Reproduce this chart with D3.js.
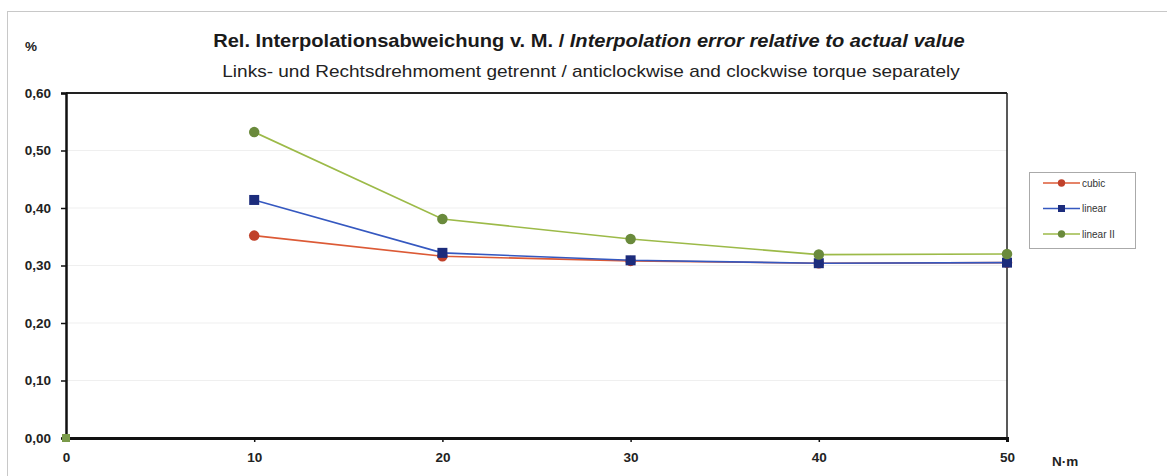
<!doctype html>
<html lang="de">
<head>
	<meta charset="UTF-8">
	<title>Rel. Interpolationsabweichung</title>
	<style>
		body { margin: 0; background: #fff; }
		svg { display: block; font-family: "Liberation Sans", Arial, sans-serif; }
		.tick-label { font-size: 13.5px; font-weight: bold; fill: #222; }
		.legend-text { font-size: 10px; fill: #333; }
	</style>
</head>
<body>
	<script src="https://cdn.jsdelivr.net/npm/d3@7"></script>
	<script>
		var w = 1167,
			h = 476;

		// data
		var torque = [10, 20, 30, 40, 50];
		var cubic = [0.352, 0.316, 0.308, 0.304, 0.305];
		var linear = [0.414, 0.322, 0.309, 0.304, 0.305];
		var linear2 = [0.532, 0.381, 0.346, 0.319, 0.320];
		var originPoint = [0, 0];
		var xTicks = [0, 10, 20, 30, 40, 50];
		var yTicks = [0, 0.1, 0.2, 0.3, 0.4, 0.5, 0.6];

		var series = [
			{ name: 'cubic', values: cubic, line: '#dc5a36', mark: '#c0412a', shape: 'circle' },
			{ name: 'linear', values: linear, line: '#3558c0', mark: '#1c2c7c', shape: 'square' },
			{ name: 'linear II', values: linear2, line: '#9cba48', mark: '#6a8a3c', shape: 'circle' }
		];

		var plot = { left: 66, right: 1007, top: 93, bottom: 438 };

		var svg = d3.select('body')
			.append('svg')
			.attr('width', w)
			.attr('height', h);

		// outer frame
		svg.append('rect')
			.attr('x', 7.5).attr('y', 11.5)
			.attr('width', w).attr('height', h)
			.attr('fill', 'none')
			.attr('stroke', '#c8c8c8');

		var xScale = d3.scaleLinear()
			.domain([0, 50])
			.range([plot.left, plot.right]);

		var yScale = d3.scaleLinear()
			.domain([0, 0.6])
			.range([plot.bottom, plot.top]);

		// faint gridlines
		svg.append('g')
			.selectAll('line')
			.data(yTicks.slice(1, -1))
			.enter()
			.append('line')
			.attr('x1', plot.left).attr('x2', plot.right)
			.attr('y1', function(d) { return yScale(d); })
			.attr('y2', function(d) { return yScale(d); })
			.attr('stroke', '#efefef')
			.attr('stroke-width', 1);

		// plot border: top and right
		svg.append('line')
			.attr('x1', plot.left).attr('x2', plot.right)
			.attr('y1', plot.top).attr('y2', plot.top)
			.attr('stroke', '#222').attr('stroke-width', 2);
		svg.append('line')
			.attr('x1', plot.right).attr('x2', plot.right)
			.attr('y1', plot.top).attr('y2', plot.bottom)
			.attr('stroke', '#222').attr('stroke-width', 1.5);

		// y axis
		var yAxis = svg.append('g')
			.attr('transform', 'translate(' + plot.left + ',0)')
			.call(d3.axisLeft(yScale)
				.tickValues(yTicks)
				.tickSize(5)
				.tickPadding(10)
				.tickFormat(function(d) { return d3.format('.2f')(d).replace('.', ','); }));
		yAxis.select('.domain').attr('stroke', '#111').attr('stroke-width', 2.5);
		yAxis.selectAll('.tick line').attr('stroke', '#111').attr('stroke-width', 1.5);
		yAxis.selectAll('.tick text').attr('class', 'tick-label').attr('font-family', null).attr('font-size', null);

		// x axis
		var xAxis = svg.append('g')
			.attr('transform', 'translate(0,' + plot.bottom + ')')
			.call(d3.axisBottom(xScale)
				.tickValues(xTicks)
				.tickSize(4)
				.tickPadding(10)
				.tickFormat(d3.format('d')));
		xAxis.select('.domain').attr('stroke', '#111').attr('stroke-width', 3);
		xAxis.selectAll('.tick line').attr('stroke', '#111').attr('stroke-width', 1.5);
		xAxis.selectAll('.tick text').attr('class', 'tick-label').attr('font-family', null).attr('font-size', null);

		// axis units
		svg.append('text')
			.attr('x', 31).attr('y', 51)
			.attr('text-anchor', 'middle')
			.attr('class', 'tick-label')
			.text('%');
		svg.append('text')
			.attr('x', 1052).attr('y', 466)
			.attr('class', 'tick-label')
			.text('N·m');

		/**
		* stretch a text horizontally so it spans the given width
		*/
		var fitWidth = function(sel, cx, targetWidth) {
			var len = sel.node().getComputedTextLength();
			var sx = targetWidth / len;
			sel.attr('transform', 'translate(' + cx + ',0) scale(' + sx + ',1) translate(' + (-cx) + ',0)');
		};

		// titles
		var title = svg.append('text')
			.attr('x', 589).attr('y', 47)
			.attr('text-anchor', 'middle')
			.style('font-size', '18px')
			.style('font-weight', 'bold')
			.attr('fill', '#1a1a1a');
		title.append('tspan').text('Rel. Interpolationsabweichung v. M. / ');
		title.append('tspan').style('font-style', 'italic').text('Interpolation error relative to actual value');
		fitWidth(title, 589, 752);

		var subtitle = svg.append('text')
			.attr('x', 591).attr('y', 77)
			.attr('text-anchor', 'middle')
			.style('font-size', '16px')
			.attr('fill', '#222')
			.text('Links- und Rechtsdrehmoment getrennt / anticlockwise and clockwise torque separately');
		fitWidth(subtitle, 591, 738);

		// lines and markers
		var lineGen = d3.line()
			.x(function(d, i) { return xScale(torque[i]); })
			.y(function(d) { return yScale(d); });

		var drawMarker = function(g, s, cx, cy, size) {
			if (s.shape === 'square') {
				g.append('rect')
					.attr('x', cx - size).attr('y', cy - size)
					.attr('width', size * 2).attr('height', size * 2)
					.attr('fill', s.mark);
			} else {
				g.append('circle')
					.attr('cx', cx).attr('cy', cy)
					.attr('r', size * 1.05)
					.attr('fill', s.mark);
			}
		};

		series.forEach(function(s) {
			var g = svg.append('g');
			g.append('path')
				.datum(s.values)
				.attr('d', lineGen)
				.attr('fill', 'none')
				.attr('stroke', s.line)
				.attr('stroke-width', 1.6);
			s.values.forEach(function(v, i) {
				drawMarker(g, s, xScale(torque[i]), yScale(v), 5);
			});
		});

		// lone point at the origin
		svg.append('rect')
			.attr('x', xScale(originPoint[0]) - 4)
			.attr('y', yScale(originPoint[1]) - 4)
			.attr('width', 8).attr('height', 8)
			.attr('fill', '#7a9a4a');

		// legend
		var legend = svg.append('g');
		legend.append('rect')
			.attr('x', 1029.5).attr('y', 172.5)
			.attr('width', 106).attr('height', 76)
			.attr('fill', '#fff')
			.attr('stroke', '#aaa');

		series.forEach(function(s, i) {
			var ly = 183 + i * 25.5;
			legend.append('line')
				.attr('x1', 1043).attr('x2', 1080)
				.attr('y1', ly).attr('y2', ly)
				.attr('stroke', s.line)
				.attr('stroke-width', 1.5);
			drawMarker(legend, s, 1061.5, ly, 3.5);
			legend.append('text')
				.attr('x', 1082).attr('y', ly + 3.5)
				.attr('class', 'legend-text')
				.text(s.name);
		});
	</script>
</body>
</html>
